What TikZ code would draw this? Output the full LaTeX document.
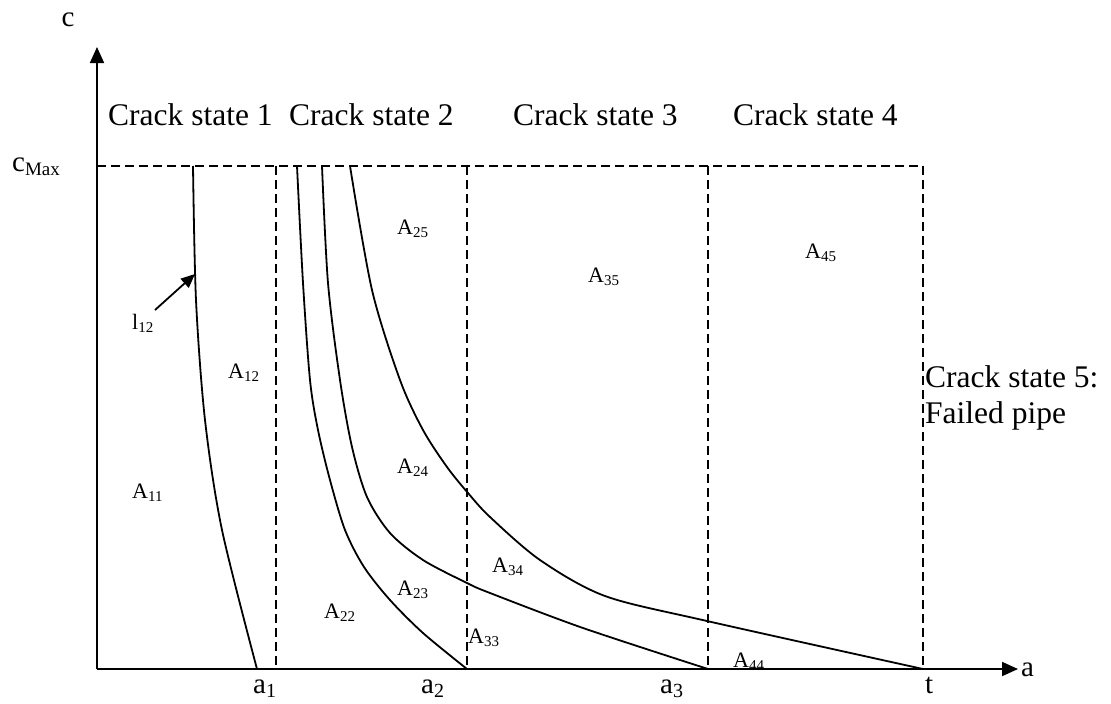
\documentclass[tikz,border=0pt]{standalone}
\usepackage{fontspec}
\setmainfont{Liberation Serif}
\usetikzlibrary{arrows.meta}
\newcommand\fbig{\fontsize{31.5}{36}\selectfont}
\newcommand\fax{\fontsize{29}{32}\selectfont}
\newcommand\fA{\fontsize{22}{26}\selectfont}
\newcommand\Alab[1]{A\raisebox{-3pt}{\fontsize{15}{18}\selectfont #1}}
\newcommand\alab[1]{a\raisebox{-4.5pt}{\fontsize{20}{24}\selectfont #1}}
\tikzset{
  axisline/.style={line width=1.8pt,-{Triangle[length=16pt,width=14pt]}},
  dashline/.style={line width=1.6pt,dash pattern=on 9pt off 5pt},
  curveline/.style={line width=1.8pt},
  txt/.style={inner sep=0pt,anchor=base west},
  bigtxt/.style={txt,font=\fbig},
  atxt/.style={txt,font=\fA},
  axtxt/.style={txt,font=\fax}
}
\begin{document}
\begin{tikzpicture}[x=1pt,y=-1pt]
\useasboundingbox (0,0) rectangle (1111,704);
% coordinates
\coordinate (O) at (97,669);
\coordinate (ytip) at (97,47);
\coordinate (xtip) at (1018,669);
\coordinate (cm0) at (97,166);
\coordinate (cm1) at (923,166);
\coordinate (d1t) at (276,166); \coordinate (d1b) at (276,669);
\coordinate (d2t) at (467,166); \coordinate (d2b) at (467,669);
\coordinate (d3t) at (708,166); \coordinate (d3b) at (708,669);
\coordinate (d4t) at (923,166); \coordinate (d4b) at (923,669);
% dashed lines
\draw[dashline] (cm0) -- (cm1);
\draw[dashline] (d1t) -- (d1b);
\draw[dashline] (d2t) -- (d2b);
\draw[dashline] (d3t) -- (d3b);
\draw[dashline] (d4t) -- (d4b);
% curves
\draw[curveline] plot[smooth,tension=0.5] coordinates {(193,166) (196,300) (205,420) (222,530) (257,669)};
\draw[curveline] plot[smooth,tension=0.5] coordinates {(297,166) (303,283) (310,380) (318,430) (330,480) (345,530) (364,567) (390,600) (423,633) (467,669)};
\draw[curveline] plot[smooth,tension=0.5] coordinates {(322,166) (328,283) (340,380) (352,447) (367,497) (390,533) (423,560) (467,583) (490,593) (583,628) (708,669)};
\draw[curveline] plot[smooth,tension=0.5] coordinates {(350,166) (372,290) (400,380) (423,430) (447,467) (468,493) (490,517) (540,560) (605,596) (707,621) (923,669)};
% axes
\draw[axisline] (O) -- (ytip);
\draw[axisline] (O) -- (xtip);
% l12 arrow
\coordinate (ltail) at (155,310);
\coordinate (ltip) at (195,274);
\draw[line width=1.8pt,-{Triangle[length=14pt,width=12pt]}] (ltail) -- (ltip);
% axis labels
\node[axtxt,anchor=base] (lc) at (68,27) {c};
\node[axtxt] (lcmax) at (12,171) {c\raisebox{-4pt}{\fontsize{19}{22}\selectfont Max}};
\node[axtxt] (la) at (1021,676) {a};
\node[axtxt] (la1) at (253,693) {\alab{1}};
\node[axtxt] (la2) at (421,693) {\alab{2}};
\node[axtxt] (la3) at (660,693) {\alab{3}};
\node[axtxt] (lt) at (925,693) {t};
% crack states
\node[bigtxt] (cs1) at (108,125) {Crack state 1};
\node[bigtxt] (cs2) at (289,125) {Crack state 2};
\node[bigtxt] (cs3) at (513,125) {Crack state 3};
\node[bigtxt] (cs4) at (733,125) {Crack state 4};
\node[bigtxt] (cs5) at (925,387) {Crack state 5:};
\node[bigtxt] (cs5b) at (925,423) {Failed pipe};
% area labels
\node[atxt] (l12) at (132,329) {l\raisebox{-3pt}{\fontsize{15}{18}\selectfont 12}};
\node[atxt] (A11) at (132,498) {\Alab{11}};
\node[atxt] (A12) at (228,378) {\Alab{12}};
\node[atxt] (A22) at (324,618) {\Alab{22}};
\node[atxt] (A23) at (397,595) {\Alab{23}};
\node[atxt] (A24) at (397,473) {\Alab{24}};
\node[atxt] (A25) at (397,234) {\Alab{25}};
\node[atxt] (A33) at (468,643) {\Alab{33}};
\node[atxt] (A34) at (492,572) {\Alab{34}};
\node[atxt] (A35) at (588,282) {\Alab{35}};
\node[atxt] (A44) at (733,667) {\Alab{44}};
\node[atxt] (A45) at (805,258) {\Alab{45}};
\end{tikzpicture}
\end{document}
